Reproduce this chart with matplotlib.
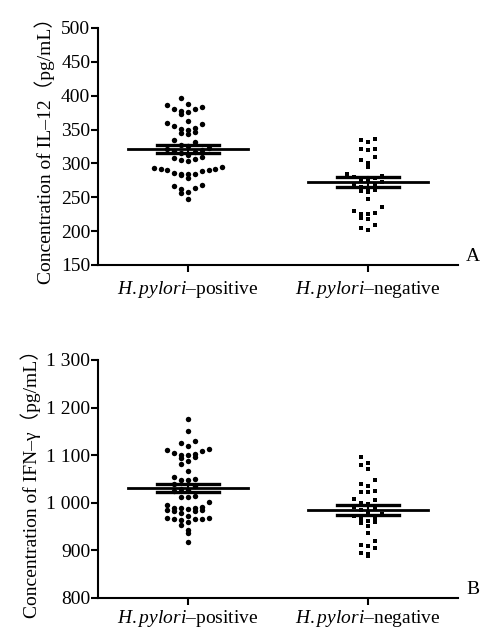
import numpy as np
import matplotlib
matplotlib.use("Agg")
import matplotlib.pyplot as plt

plt.rcParams['font.family'] = ['Liberation Serif', 'Noto Sans CJK SC', 'DejaVu Sans']
plt.rcParams['mathtext.fontset'] = 'custom'
plt.rcParams['mathtext.rm'] = 'Liberation Serif'
plt.rcParams['mathtext.it'] = 'Liberation Serif:italic'

groups = [r"$\mathit{H{.}pylori}$–positive", r"$\mathit{H{.}pylori}$–negative"]

il12_pos = [397, 388, 386, 383, 381, 380, 378, 376, 373,
            363, 360, 358, 355, 352, 351, 350, 347, 345, 343,
            335, 331, 327, 325, 323, 322, 320, 319, 317, 315, 313,
            310, 308, 306, 305, 304,
            294, 293, 292, 291, 290, 290, 289, 286, 285, 285, 284, 283, 278,
            268, 266, 263, 262, 258, 257, 248]
il12_neg = [336, 334, 332, 322, 321, 320, 310, 305, 301, 295,
            284, 282, 280, 278, 276, 274, 272, 270, 268, 265, 262, 260, 259, 258,
            247, 235, 229, 227, 226, 225, 220, 218, 209, 204, 201]
il12_mean = [321, 273]
il12_sem = [6, 7.5]

ifn_pos = [1177, 1151, 1130, 1125, 1120, 1113, 1110, 1109, 1104, 1102, 1100, 1100,
           1097, 1095, 1088, 1081, 1067, 1055, 1051, 1048, 1048, 1040, 1035, 1030,
           1027, 1025, 1014, 1013, 1012, 1001, 995, 992, 990, 990, 990, 988, 985,
           982, 982, 985, 978, 972, 967, 965, 965, 964, 960, 965, 968, 953, 943, 936, 917]
ifn_neg = [1096, 1084, 1079, 1072, 1048, 1039, 1035, 1024, 1022, 1022, 1009, 1006,
           1000, 997, 992, 988, 985, 980, 976, 972, 967, 965, 962, 960, 958, 951,
           936, 920, 911, 910, 904, 895, 892, 888]
ifn_mean = [1031, 985]
ifn_sem = [9, 11]

il12_ticks = [150, 200, 250, 300, 350, 400, 450, 500]
ifn_ticks = [800, 900, 1000, 1100, 1200, 1300]
ifn_ticklabels = ["800", "900", "1 000", "1 100", "1 200", "1 300"]


def scatter_offsets(vals, h, step):
    vals = np.asarray(vals, dtype=float)
    order = np.argsort(-vals)
    xs = np.zeros(len(vals))
    i = 0
    while i < len(order):
        start = vals[order[i]]
        row = [order[i]]
        j = i + 1
        while j < len(order) and start - vals[order[j]] <= h:
            row.append(order[j])
            j += 1
        row_sorted = sorted(row, key=lambda k: vals[k])
        for n, k in enumerate(row_sorted):
            m = (n + 1) // 2
            xs[k] = (-m if n % 2 == 1 else m) * step
        i = j
    return xs


def panel(ax, pos, neg, means, sems, h, ylim, ticks, ticklabels, ylabel, letter, xpad):
    step = 0.038
    for i, (vals, mk, ms) in enumerate([(pos, 'o', 3.9), (neg, 's', 3.4)]):
        xo = scatter_offsets(vals, h, step)
        ax.plot(1 + i + xo, vals, linestyle='none', marker=mk, color='black',
                markersize=ms, markeredgewidth=0, zorder=2)
        x = 1 + i
        ax.plot([x - 0.335, x + 0.335], [means[i], means[i]], color='black', lw=2.0, zorder=3)
        for s in (-1, 1):
            ax.plot([x - 0.17, x + 0.17], [means[i] + s * sems[i]] * 2, color='black', lw=2.4, zorder=3)
        ax.plot([x, x], [means[i] - sems[i], means[i] + sems[i]], color='black', lw=1.5, zorder=3)
    ax.set_xlim(0.5, 2.5)
    ax.set_ylim(*ylim)
    ax.set_yticks(ticks)
    ax.set_yticklabels(ticklabels)
    ax.set_xticks([1, 2])
    ax.set_xticklabels(groups)
    for sp in ('top', 'right'):
        ax.spines[sp].set_visible(False)
    for sp in ('left', 'bottom'):
        ax.spines[sp].set_linewidth(1.5)
    ax.tick_params(axis='both', width=1.5, length=5, labelsize=14, direction='out')
    ax.tick_params(axis='y', pad=0.5)
    ax.tick_params(axis='x', pad=xpad)
    ax.set_ylabel(ylabel, fontsize=14, labelpad=4)
    ax.text(1.022, 0.0, letter, transform=ax.transAxes, fontsize=14, va='bottom', ha='left')


fig = plt.figure(figsize=(4.83, 6.30), dpi=100)
ax1 = fig.add_axes([0.2029, 0.5794, 0.7453, 0.3762])
ax2 = fig.add_axes([0.2029, 0.0508, 0.7453, 0.3778])

panel(ax1, il12_pos, il12_neg, il12_mean, il12_sem, 10, (150, 500), il12_ticks,
      [str(t) for t in il12_ticks], "Concentration of IL–12（pg/mL）", "A", 5)
panel(ax2, ifn_pos, ifn_neg, ifn_mean, ifn_sem, 14, (800, 1300), ifn_ticks,
      ifn_ticklabels, "Concentration of IFN–γ（pg/mL）", "B", 2.5)

fig.savefig("out.png", dpi=100)
